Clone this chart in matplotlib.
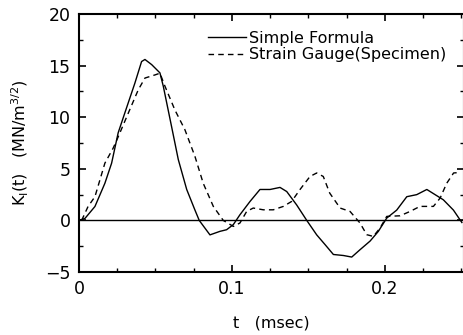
import numpy as np
import matplotlib
matplotlib.use("Agg")
import matplotlib.pyplot as plt
from matplotlib.ticker import MultipleLocator

# Simple formula (solid)
t_simple = [0.0, 0.004, 0.0105, 0.017, 0.0214, 0.0257, 0.030, 0.0366, 0.041, 0.0432,
            0.0476, 0.053, 0.0552, 0.0606, 0.065, 0.0705, 0.0759, 0.0787, 0.0857, 0.0922,
            0.0966, 0.101, 0.1053, 0.1119, 0.1184, 0.125, 0.1315, 0.1359, 0.1424, 0.149,
            0.1555, 0.161, 0.1664, 0.173, 0.1784, 0.1838, 0.1904, 0.1958, 0.2013, 0.2078,
            0.2144, 0.2209, 0.2275, 0.2329, 0.2383, 0.2449, 0.2504]
k_simple = [0.0, 0.2, 1.35, 3.6, 5.55, 8.5, 10.4, 13.3, 15.4, 15.6,
            15.1, 14.3, 13.0, 9.1, 5.9, 3.0, 1.0, 0.0, -1.4, -1.06,
            -0.9, -0.4, 0.55, 1.84, 3.0, 3.0, 3.2, 2.8, 1.5, 0.0,
            -1.4, -2.35, -3.3, -3.4, -3.55, -2.84, -2.0, -1.06, 0.23, 1.0,
            2.3, 2.5, 3.0, 2.5, 2.0, 1.0, -0.2]

# Strain gauge (dashed)
t_gauge = [0.0018, 0.006, 0.0105, 0.017, 0.0224, 0.0257, 0.0323, 0.0388, 0.0432, 0.0497,
           0.053, 0.0563, 0.0628, 0.0693, 0.0759, 0.0813, 0.0879, 0.0944, 0.101, 0.1053,
           0.1097, 0.114, 0.1206, 0.1271, 0.1337, 0.1391, 0.1446, 0.1511, 0.1555, 0.1598,
           0.164, 0.1708, 0.1773, 0.1838, 0.1882, 0.1925, 0.1969, 0.2013, 0.21, 0.2165,
           0.223, 0.2318, 0.2362, 0.2405, 0.245, 0.2495]
k_gauge = [0.0, 1.35, 2.3, 5.55, 7.0, 8.1, 10.4, 12.65, 13.8, 14.1,
           14.27, 13.0, 10.7, 8.8, 6.2, 3.6, 1.36, 0.0, -0.58, -0.25,
           0.87, 1.2, 1.03, 1.03, 1.36, 1.84, 3.0, 4.26, 4.6, 4.26,
           2.65, 1.2, 0.87, -0.25, -1.38, -1.55, -0.74, 0.39, 0.45, 0.87,
           1.36, 1.36, 2.17, 3.6, 4.6, 4.65]

x_ticks = [0, 0.1, 0.2]
x_labels = ["0", "0.1", "0.2"]
y_ticks = [-5, 0, 5, 10, 15, 20]

fig = plt.figure(figsize=(4.64, 3.35), dpi=100)
ax = fig.add_axes([0.170, 0.188, 0.829, 0.770])

ax.plot(t_simple, k_simple, color="black", lw=1.0, label="Simple Formula")
ax.plot(t_gauge, k_gauge, color="black", lw=1.0, ls=(0, (4, 3)), label="Strain Gauge(Specimen)")
ax.axhline(0, color="black", lw=1.0)

ax.set_xlim(0, 0.2515)
ax.set_ylim(-5, 20)
ax.set_xticks(x_ticks)
ax.set_xticklabels(x_labels)
ax.set_yticks(y_ticks)
ax.xaxis.set_minor_locator(MultipleLocator(0.025))
ax.yaxis.set_minor_locator(MultipleLocator(2.5))
ax.tick_params(which="both", direction="in", top=True, right=True, labelsize=12.5, pad=6)
ax.tick_params(which="major", length=5, width=1.2)
ax.tick_params(which="minor", length=3, width=1.0)
for s in ax.spines.values():
    s.set_linewidth(1.5)

ax.set_xlabel("t   (msec)", fontsize=11.5, labelpad=12)
ax.set_ylabel(r"K$_{\rm I}$(t)   (MN/m$^{3/2}$)", fontsize=11.5, labelpad=10)

ax.legend(loc="upper left", bbox_to_anchor=(0.335, 0.935), frameon=False, fontsize=11.5,
          handlelength=2.4, handletextpad=0.2, labelspacing=0.1, borderpad=0, borderaxespad=0)

fig.savefig("out.png", dpi=100)
